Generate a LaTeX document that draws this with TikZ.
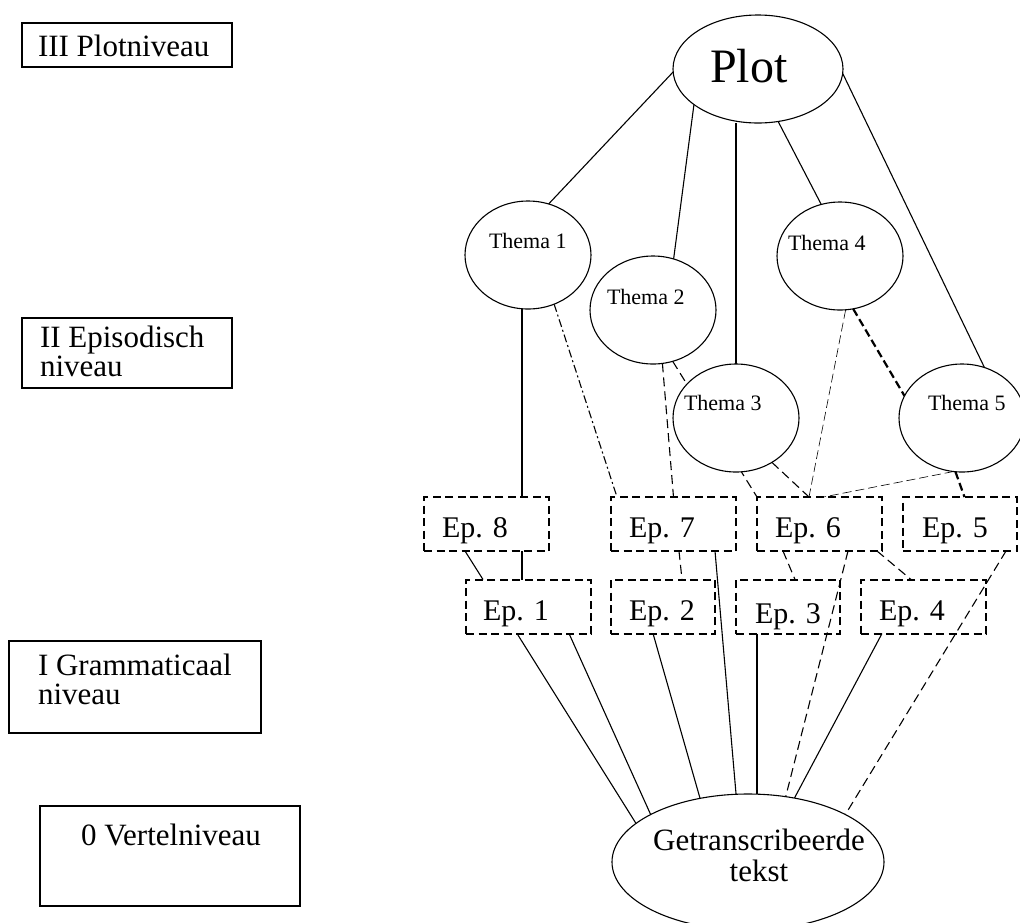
\documentclass[tikz,border=0pt]{standalone}
\usepackage{fontspec}
\setmainfont{Liberation Serif}
\usetikzlibrary{shapes.geometric,backgrounds}
\begin{document}
\begin{tikzpicture}[x=1pt,y=-1pt,
  every node/.style={inner sep=0pt, outer sep=0pt},
  ell/.style={draw, ellipse, line width=1.1pt, fill=white},
  thema/.style={ell, minimum width=126pt, minimum height=108pt},
  thematext/.style={font=\fontsize{22}{22}\selectfont, anchor=base west},
  epbox/.style={draw, line width=2pt, dash pattern=on 8pt off 4.5pt, minimum width=125pt, minimum height=54pt},
  eptext/.style={font=\fontsize{30}{30}\selectfont, anchor=base west},
  lvbox/.style={draw, line width=1.2pt},
  lvtext/.style={font=\fontsize{31}{31}\selectfont, anchor=base west},
  conn/.style={line width=1.1pt},
  dsh/.style={conn, dash pattern=on 9pt off 5pt},
  dshdot/.style={conn, dash pattern=on 8pt off 3pt on 2pt off 3pt},
  thindsh/.style={line width=0.6pt, dash pattern=on 9pt off 4pt},
  thickdsh/.style={line width=2.2pt, dash pattern=on 8pt off 4pt}
]
\useasboundingbox (0,0) rectangle (1020,922);

% level boxes
\node[lvbox, minimum width=210pt, minimum height=44pt] (lv3) at (127,45) {};
\node[lvtext] (lv3t) at (38,56) {III Plotniveau};
\node[lvbox, minimum width=210pt, minimum height=70pt] (lv2) at (127,353) {};
\node[lvtext] (lv2a) at (40,347) {II Episodisch};
\node[lvtext] (lv2b) at (40,376) {niveau};
\node[lvbox, minimum width=252pt, minimum height=92pt] (lv1) at (135,687) {};
\node[lvtext] (lv1a) at (38,675) {I Grammaticaal};
\node[lvtext] (lv1b) at (38,704) {niveau};
\node[lvbox, minimum width=260pt, minimum height=100pt] (lv0) at (170,856) {};
\node[lvtext] (lv0t) at (81,845) {0 Vertelniveau};

% plot
\node[ell, minimum width=170pt, minimum height=108pt] (plot) at (758,69) {};
\node[font=\fontsize{48}{48}\selectfont, anchor=base west] (plott) at (710,82) {Plot};

% themes
\node[thema] (t1) at (528,255) {};
\node[thematext] (t1t) at (489,248) {Thema 1};
\node[thema] (t2) at (653,310) {};
\node[thematext] (t2t) at (607,304) {Thema 2};
\node[thema] (t3) at (736,418) {};
\node[thematext] (t3t) at (684,410) {Thema 3};
\node[thema] (t4) at (840,256) {};
\node[thematext] (t4t) at (788,250) {Thema 4};
\node[thema] (t5) at (962,418) {};
\node[thematext] (t5t) at (928,410) {Thema 5};

% episodes row 1
\node[epbox] (e8) at (486.5,524) {};
\node[eptext] (e8t) at (442,537) {Ep. 8};
\node[epbox] (e7) at (673.5,524) {};
\node[eptext] (e7t) at (629,537) {Ep. 7};
\node[epbox] (e6) at (819.5,524) {};
\node[eptext] (e6t) at (775,537) {Ep. 6};
\node[epbox, minimum width=114pt] (e5) at (960,524) {};
\node[eptext] (e5t) at (922,537) {Ep. 5};
% episodes row 2
\node[epbox] (e1) at (528.5,606.5) {};
\node[eptext] (e1t) at (483,620) {Ep. 1};
\node[epbox, minimum width=104pt] (e2) at (663,606.5) {};
\node[eptext] (e2t) at (629,620) {Ep. 2};
\node[epbox, minimum width=104pt] (e3) at (788,606.5) {};
\node[eptext] (e3t) at (755,623) {Ep. 3};
\node[epbox] (e4) at (923.5,606.5) {};
\node[eptext] (e4t) at (879,620) {Ep. 4};

% transcribed text
\node[ell, minimum width=272pt, minimum height=136pt] (g) at (748,862) {};
\node[font=\fontsize{31}{31}\selectfont, anchor=base] (g1) at (759,850) {Getranscribeerde};
\node[font=\fontsize{31}{31}\selectfont, anchor=base] (g2) at (759,881) {tekst};

\begin{scope}[on background layer]
  % plot to themes
  \draw[conn] (plot.182) -- (t1.68);
  \draw[conn] (plot.209) -- (t2.68);
  \draw[conn] (t3.north |- plot.south) -- (t3.north);
  \draw[conn] (plot.-69) -- (t4.110);
  \draw[conn] (plot.-3) -- (t5.66);
  % themes to episodes
  \draw[conn] ([xshift=-6pt]t1.south) -- ([xshift=35.5pt]e8.north);
  \draw[dshdot] (t1.-62) -- ([xshift=-56.5pt]e7.north);
  \draw[dsh] (t2.-80) -- (e7.north);
  \draw[dsh] (t2.-69) -- (e6.north west);
  \draw[dsh] (t3.-51) -- ([xshift=-10.5pt]e6.north);
  \draw[thindsh] (t4.-84) -- ([xshift=-10.5pt]e6.north);
  \draw[thickdsh] (t4.-76) -- (t5.159);
  \draw[thindsh] (t5.-99) -- ([xshift=4pt]e6.north);
  \draw[thickdsh] (t5.-97) -- ([xshift=4.5pt]e5.north);
  % row 1 to row 2
  \draw[conn] ([xshift=35.5pt]e8.south) -- ([xshift=-6.5pt]e1.north);
  \draw[conn] ([xshift=-21.5pt]e8.south) -- ([xshift=-45.5pt]e1.north);
  \draw[dsh] ([xshift=5.5pt]e7.south) -- ([xshift=19pt]e2.north);
  \draw[dsh] ([xshift=-36.5pt]e6.south) -- ([xshift=7pt]e3.north);
  \draw[dsh] ([xshift=57.5pt]e6.south) -- ([xshift=-12.5pt]e4.north);
  % to the transcribed text
  \draw[conn] ([xshift=-11.5pt]e1.south) -- (g.161);
  \draw[conn] ([xshift=40.5pt]e1.south) -- (g.154);
  \draw[conn] ([xshift=-10pt]e2.south) -- (g.127);
  \draw[conn] ([xshift=41.5pt]e7.south) -- (g.100);
  \draw[conn] ([xshift=-31pt]e3.south) -- ([xshift=-31pt]e3.south |- g.north);
  \draw[dsh] ([xshift=28.5pt]e6.south) -- (g.60);
  \draw[conn] ([xshift=-41.5pt]e4.south) -- (g.54);
  \draw[dsh] ([xshift=46pt]e5.south) -- (g.26);
\end{scope}
\end{tikzpicture}
\end{document}
